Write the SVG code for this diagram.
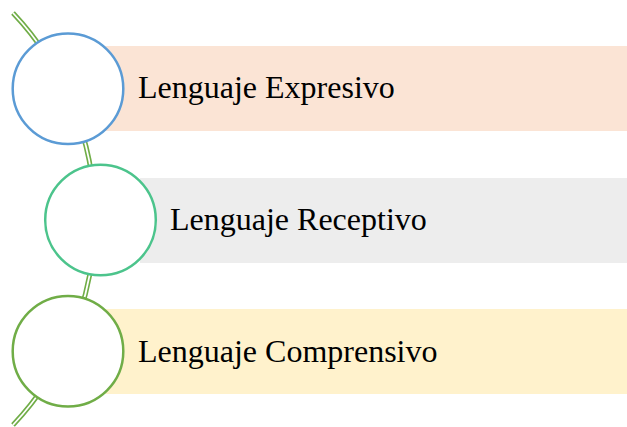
<svg xmlns="http://www.w3.org/2000/svg" width="627" height="427" viewBox="0 0 627 427">
<style>
.lbl{font-family:"Liberation Serif","Times New Roman",serif;font-size:32px;fill:#000}
.ring{fill:#fff;stroke-width:2.5}
</style>
<rect width="627" height="427" fill="#fff"/>
<g id="connectors">
<path d="M 13 13 A 300 300 0 0 1 13 425" fill="none" stroke="#70AD47" stroke-width="5"/>
<path d="M 13 13 A 300 300 0 0 1 13 425" fill="none" stroke="#fff" stroke-width="1.8"/>
</g>
<g id="node1">
<rect x="105" y="46" width="522" height="85" fill="#FBE4D5"/>
<circle class="ring" cx="68" cy="88.7" r="55.3" stroke="#5B9BD5"/>
<text class="lbl" x="138" y="97.5">Lenguaje Expresivo</text>
</g>
<g id="node2">
<rect x="140" y="178" width="487" height="85" fill="#EDEDED"/>
<circle class="ring" cx="100.5" cy="220" r="55.3" stroke="#4CC48C"/>
<text class="lbl" x="170" y="230">Lenguaje Receptivo</text>
</g>
<g id="node3">
<rect x="105" y="309" width="522" height="85" fill="#FFF2CC"/>
<circle class="ring" cx="68" cy="351.3" r="55.3" stroke="#70AD47"/>
<text class="lbl" x="138" y="361.5">Lenguaje Comprensivo</text>
</g>
</svg>
